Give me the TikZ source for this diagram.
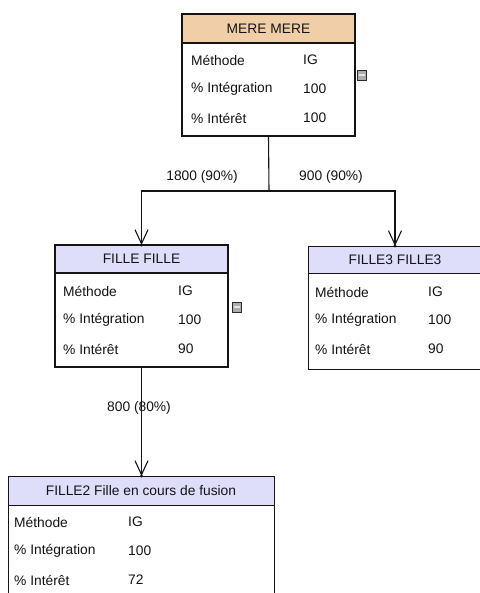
\documentclass[tikz,border=0pt]{standalone}
\usepackage{fontspec}
\setmainfont{Liberation Sans}
\usetikzlibrary{arrows.meta,calc}
\definecolor{tanhdr}{RGB}{240,207,168}
\definecolor{lavhdr}{RGB}{222,222,250}
\definecolor{ink}{RGB}{20,20,20}
\begin{document}
\begin{tikzpicture}[x=1pt,y=-1pt,
  box/.style={draw=ink, fill=white, anchor=north west, inner sep=0pt, outer sep=0pt},
  thickbox/.style={box, line width=2.2pt},
  thinbox/.style={box, line width=1pt},
  hdr/.style={draw=ink, anchor=north west, inner sep=0pt, outer sep=0pt, font=\fontsize{13.8}{16}\selectfont, text=ink},
  txt/.style={anchor=west, inner sep=0pt, font=\fontsize{13.8}{16}\selectfont, text=ink},
  lbl/.style={inner sep=0pt, font=\fontsize{13.8}{16}\selectfont, text=ink},
  link/.style={draw=ink, line width=1.1pt},
  arr/.style={link, -{Straight Barb[length=14pt,width=13pt,line width=1.1pt]}},
  tipdot/.style={fill=ink},
  icon/.style={draw=ink!90, fill=gray!65, minimum width=9pt, minimum height=10pt, inner sep=0pt, line width=0.9pt},
  iconbar/.style={draw=gray!20, line width=1.6pt}]
\useasboundingbox (0,0) rectangle (479,593);

% MERE
\node[thickbox, minimum width=173pt, minimum height=122pt] (mere) at (182,14) {};
\node[hdr, line width=2.2pt, fill=tanhdr, minimum width=173pt, minimum height=29pt] (mereh) at (mere.north west) {MERE MERE};
\node[txt] (mere1) at ($(mere.north west)+(9,46)$) {Méthode};
\node[txt] (mere2) at ($(mere.north west)+(9,75)$) {\% Intégration};
\node[txt] (mere3) at ($(mere.north west)+(9,104)$) {\% Intérêt};
\node[txt] (merev1) at ($(mere.north west)+(121,46)$) {IG};
\node[txt] (merev2) at ($(mere.north west)+(121,75)$) {100};
\node[txt] (merev3) at ($(mere.north west)+(121,104)$) {100};
\node[icon] (mereicon) at ($(mere.north east)+(7,61)$) {};
\draw[iconbar] ($(mereicon.west)+(2,0)$) -- ($(mereicon.east)+(-2,0)$);

% FILLE
\node[thickbox, minimum width=173pt, minimum height=122pt] (fille) at (55,245) {};
\node[hdr, line width=2.2pt, fill=lavhdr, minimum width=173pt, minimum height=28pt] (filleh) at (fille.north west) {FILLE FILLE};
\node[txt] (fille1) at ($(fille.north west)+(8,46)$) {Méthode};
\node[txt] (fille2l) at ($(fille.north west)+(8,75)$) {\% Intégration};
\node[txt] (fille3l) at ($(fille.north west)+(8,104)$) {\% Intérêt};
\node[txt] (fillev1) at ($(fille.north west)+(123,46)$) {IG};
\node[txt] (fillev2) at ($(fille.north west)+(123,75)$) {100};
\node[txt] (fillev3) at ($(fille.north west)+(123,104)$) {90};
\node[icon] (filleicon) at ($(fille.north east)+(9,62)$) {};
\draw[iconbar] ($(filleicon.west)+(2,0)$) -- ($(filleicon.east)+(-2,0)$);

% FILLE3
\node[thinbox, minimum width=174pt, minimum height=123pt] (filleb) at (308,246) {};
\node[hdr, line width=1pt, fill=lavhdr, minimum width=174pt, minimum height=27pt] (fillebh) at (filleb.north west) {FILLE3 FILLE3};
\node[txt] (filleb1) at ($(filleb.north west)+(7,46)$) {Méthode};
\node[txt] (filleb2) at ($(filleb.north west)+(7,74)$) {\% Intégration};
\node[txt] (filleb3) at ($(filleb.north west)+(7,103)$) {\% Intérêt};
\node[txt] (fillebv1) at ($(filleb.north west)+(120,46)$) {IG};
\node[txt] (fillebv2) at ($(filleb.north west)+(120,74)$) {100};
\node[txt] (fillebv3) at ($(filleb.north west)+(120,103)$) {90};

% FILLE2
\node[thinbox, minimum width=266pt, minimum height=130pt] (fillec) at (8,476) {};
\node[hdr, line width=1pt, fill=lavhdr, minimum width=266pt, minimum height=29pt] (fillech) at (fillec.north west) {FILLE2 Fille en cours de fusion};
\node[txt] (fillec1) at ($(fillec.north west)+(6,46)$) {Méthode};
\node[txt] (fillec2) at ($(fillec.north west)+(6,75)$) {\% Intégration};
\node[txt] (fillec3) at ($(fillec.north west)+(6,104)$) {\% Intérêt};
\node[txt] (fillecv1) at ($(fillec.north west)+(120,46)$) {IG};
\node[txt] (fillecv2) at ($(fillec.north west)+(120,75)$) {100};
\node[txt] (fillecv3) at ($(fillec.north west)+(120,104)$) {72};

% connectors
\coordinate (j) at (269,191);
\draw[link] (mere.south) -- (j);
\draw[arr] (j) -| (fille.north);
\draw[arr] (j) -| (filleb.north);
\draw[arr] (fille.south) -- (fille.south |- fillec.north);
\fill[tipdot] (fille.north) circle (1.6pt);
\fill[tipdot] (filleb.north) circle (1.6pt);
\fill[tipdot] (fille.south |- fillec.north) circle (1.6pt);

% labels
\node[lbl] (l1) at (202,177) {1800 (90\%)};
\node[lbl] (l2) at (331,177) {900 (90\%)};
\node[lbl] (l3) at (139,408) {800 (80\%)};
\end{tikzpicture}
\end{document}
